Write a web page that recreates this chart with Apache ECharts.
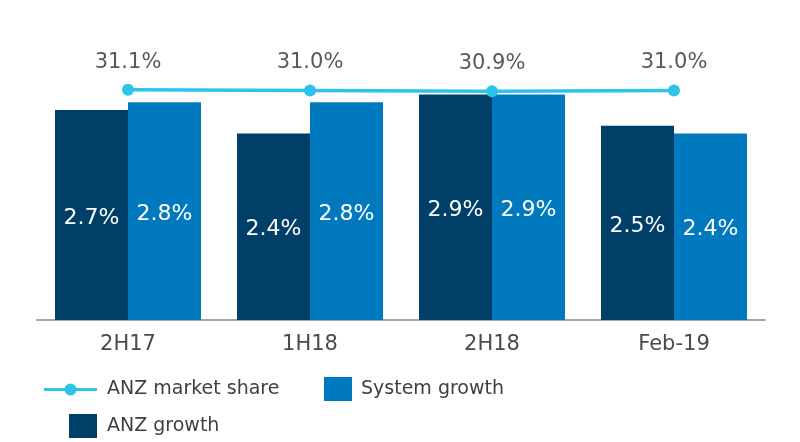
<!DOCTYPE html>
<html><head><meta charset="utf-8">
<script src="https://cdn.jsdelivr.net/npm/echarts@6/dist/echarts.min.js"></script>
<style>html,body{margin:0;padding:0;background:#fff}#c{width:800px;height:442px}</style>
</head><body><div id="c"></div>
<script>
var categories = ['2H17', '1H18', '2H18', 'Feb-19'];
var anzGrowth = [2.7, 2.4, 2.9, 2.5];
var systemGrowth = [2.8, 2.8, 2.9, 2.4];
var marketShare = [31.1, 31.0, 30.9, 31.0];

var FONT = 'DejaVu Sans';
var lineIcon = 'path://M0,4.5 L21,4.5 L21,7.5 L0,7.5 Z M32,4.5 L53,4.5 L53,7.5 L32,7.5 Z M20.5,6 A6,6 0 1,1 32.5,6 A6,6 0 1,1 20.5,6 Z';
var chart = echarts.init(document.getElementById('c'));
chart.setOption({
  animation: false,
  backgroundColor: '#ffffff',
  grid: { left: 37, right: 35, top: 9, bottom: 122, containLabel: false },
  legend: [
    { data: [{ name: 'ANZ market share', icon: lineIcon }], left: 44, top: 380, padding: 0, itemWidth: 53, itemHeight: 12,
      textStyle: { fontFamily: FONT, fontSize: 19, color: '#3f3f3f', padding: [6, 0, 0, 5] } },
    { data: [{ name: 'System growth', icon: 'rect' }], left: 324, top: 377, padding: 0, itemWidth: 28, itemHeight: 24,
      textStyle: { fontFamily: FONT, fontSize: 19, color: '#3f3f3f', padding: [6, 0, 0, 4] } },
    { data: [{ name: 'ANZ growth', icon: 'rect' }], left: 69, top: 414, padding: 0, itemWidth: 28, itemHeight: 24,
      textStyle: { fontFamily: FONT, fontSize: 19, color: '#3f3f3f', padding: [6, 0, 0, 5] } }
  ],
  xAxis: {
    type: 'category', data: categories, boundaryGap: true,
    axisLine: { lineStyle: { color: '#a6a6a6', width: 2 } },
    axisTick: { show: false },
    axisLabel: { fontFamily: FONT, fontSize: 21, color: '#4a4a4a', margin: 14 }
  },
  yAxis: [
    { type: 'value', min: 0, max: 4, show: false, splitLine: { show: false } },
    { type: 'value', min: 0, max: 42, show: false, splitLine: { show: false } }
  ],
  series: [
    { name: 'ANZ growth', type: 'bar', data: anzGrowth, barWidth: 73, barGap: '0%',
      itemStyle: { color: '#004068' },
      label: { show: true, position: 'inside', offset: [0, 3], formatter: function (p) { return p.value.toFixed(1) + '%'; },
        fontFamily: FONT, fontSize: 22, color: '#ffffff' } },
    { name: 'System growth', type: 'bar', data: systemGrowth, barWidth: 73, barGap: '0%',
      itemStyle: { color: '#0079bf' },
      label: { show: true, position: 'inside', offset: [0, 3], formatter: function (p) { return p.value.toFixed(1) + '%'; },
        fontFamily: FONT, fontSize: 22, color: '#ffffff' } },
    { name: 'ANZ market share', type: 'line', yAxisIndex: 1, data: marketShare,
      symbol: 'circle', symbolSize: 12,
      lineStyle: { color: '#2ec4ea', width: 3.5 },
      itemStyle: { color: '#2ec4ea' },
      label: { show: true, position: 'top', distance: 11, formatter: function (p) { return p.value.toFixed(1) + '%'; },
        fontFamily: FONT, fontSize: 21, color: '#595959' } }
  ]
});
</script>
</body></html>
